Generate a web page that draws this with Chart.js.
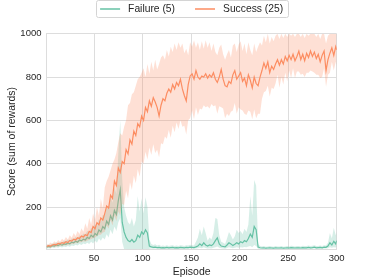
<!DOCTYPE html>
<html><head><meta charset="utf-8">
<script src="https://cdn.jsdelivr.net/npm/chart.js@4/dist/chart.umd.min.js"></script>
<style>html,body{margin:0;padding:0;background:#fff}</style>
</head><body>
<canvas id="c" width="374" height="280"></canvas>
<script>
// Episodes sampled every 2 steps (1,3,...,299) plus the final episode 300
const episodes = [];
for (let e = 1; e <= 299; e += 2) episodes.push(e);
episodes.push(300);

const xTicks = [50, 100, 150, 200, 250, 300];
const yTicks = [200, 400, 600, 800, 1000];
const seriesLabels = ['Failure (5)', 'Success (25)'];

const successMean = [
18,22,20,25,28,26,32,30,36,33,
40,36,46,43,52,48,58,55,66,62,
72,68,88,82,110,100,128,118,150,140,
170,205,195,255,240,320,300,380,360,410,
400,465,445,510,490,550,530,585,570,620,
600,660,640,690,665,705,685,660,620,670,
700,690,725,745,730,765,745,775,760,790,
745,715,690,765,805,815,790,830,800,790,
805,800,815,795,810,800,820,790,775,800,
835,790,760,755,780,770,810,830,790,805,
820,780,795,760,810,785,750,800,770,760,
800,830,865,840,870,820,850,835,860,880,
855,880,860,895,875,900,880,905,875,895,
920,880,905,875,910,890,920,895,915,885,
905,870,900,920,830,880,910,935,900,940,
925];
const successLow = [
9,14,10,16,15,17,18,20,20,22,
23,25,26,30,30,34,33,38,38,42,
40,45,48,52,56,60,65,72,72,82,
85,115,100,140,115,160,135,180,160,215,
210,275,240,315,280,345,310,375,340,410,
400,455,420,475,440,490,450,465,430,495,
490,525,515,555,520,575,545,590,560,600,
570,575,535,600,610,645,605,660,625,655,
650,670,660,665,655,675,665,670,630,665,
660,655,610,630,620,640,645,680,630,660,
650,645,630,625,645,640,605,650,610,630,
630,700,730,735,760,710,750,745,770,810,
750,800,765,820,780,830,795,840,795,825,
825,810,815,800,820,820,830,825,820,810,
810,795,800,840,755,810,820,870,830,870,
850];
const successHigh = [
30,26,36,30,42,34,48,40,54,46,
62,50,70,58,80,66,90,76,102,86,
125,100,150,120,170,140,200,160,240,195,
290,320,340,370,400,420,450,500,540,530,
570,600,670,680,720,730,760,790,800,820,
840,800,860,815,870,830,880,835,860,890,
900,880,925,895,940,915,955,925,960,935,
955,910,930,900,960,940,970,935,960,925,
965,930,970,935,960,920,955,915,900,935,
950,905,880,905,925,890,945,955,915,950,
965,920,955,905,960,925,900,955,915,940,
960,945,990,960,1000,955,985,965,990,1000,
975,1000,980,1000,985,1000,990,1000,985,1000,
1000,985,1000,980,1000,990,1000,1000,1000,985,
1000,975,1000,1000,955,990,1000,1000,1000,1000,
1000];

const failureMean = [
15,18,16,22,20,25,22,28,24,30,
28,34,30,38,35,42,38,48,44,52,
48,60,55,70,62,78,70,95,85,110,
100,135,120,160,140,185,165,230,280,130,
85,60,45,40,50,38,45,70,60,85,
75,95,80,20,16,14,15,13,14,12,
13,12,14,12,13,14,12,13,12,14,
13,12,14,13,15,14,13,16,20,30,
22,35,25,20,25,22,30,45,58,30,
20,18,16,25,35,30,22,28,35,30,
40,35,45,40,55,75,60,110,95,15,
12,11,12,10,11,12,11,10,12,11,
11,12,10,11,12,11,13,12,11,12,
12,11,13,12,12,14,12,13,15,12,
13,14,12,15,14,20,35,25,42,30,
45];
const failureLow = [
8,10,9,13,11,15,12,17,13,18,
16,20,17,23,20,26,22,30,25,32,
28,35,30,40,32,45,35,55,45,60,
50,75,60,95,75,110,90,130,150,40,
5,3,2,2,3,2,2,4,3,5,
4,5,3,8,9,8,9,8,9,7,
8,7,9,7,8,9,7,8,7,9,
8,7,9,8,9,8,8,9,10,12,
10,14,11,9,10,9,12,15,18,12,
10,9,8,11,14,12,10,12,14,12,
15,13,16,14,18,20,15,25,20,8,
8,7,8,6,7,8,7,6,8,7,
7,8,6,7,8,7,8,8,7,8,
8,7,8,8,8,9,8,8,9,8,
8,9,8,9,9,10,14,12,15,13,
18];
const failureHigh = [
24,28,25,33,30,37,33,40,36,44,
42,50,45,55,52,62,56,70,65,78,
75,90,85,105,95,120,110,145,130,165,
160,200,190,250,220,290,260,450,600,330,
200,160,130,120,150,110,140,250,180,240,
170,245,200,50,30,25,28,22,26,20,
22,20,24,20,22,24,20,22,20,24,
22,20,24,22,26,24,22,40,60,100,
70,110,80,45,60,50,80,150,145,70,
40,35,30,55,85,70,50,65,95,80,
90,75,100,85,120,250,160,325,300,30,
20,18,20,17,18,20,18,17,20,18,
18,20,17,18,20,18,21,20,18,20,
20,18,21,20,20,22,20,21,24,20,
20,22,20,24,22,35,80,55,105,70,
85];

const GREEN = '#66c2a5', ORANGE = '#fc8d62';
const GREEN_FILL = 'rgba(102,194,165,0.27)', ORANGE_FILL = 'rgba(252,141,98,0.27)';
const FONT = '"Liberation Sans", Arial, sans-serif';
const TXT = '#262626';
const GRID = '#dddddd';

const pts = arr => episodes.map((x, i) => ({x: x, y: arr[i]}));
const bandBase = {pointRadius: 0, borderWidth: 0, tension: 0, showLine: true};

const legendPlugin = {
  id: 'boxLegend',
  afterDraw(chart) {
    const ctx = chart.ctx;
    const items = [
      {label: seriesLabels[0], color: GREEN},
      {label: seriesLabels[1], color: ORANGE}
    ];
    ctx.save();
    ctx.font = '10.3px ' + FONT;
    const lineW = 20, gapT = 8, gapI = 20, padX = 4.5;
    let total = 0;
    items.forEach((it, i) => {
      it.w = ctx.measureText(it.label).width;
      total += lineW + gapT + it.w + (i ? gapI : 0);
    });
    const cx = (chart.chartArea.left + chart.chartArea.right) / 2;
    let x = cx - total / 2;
    const y = 9;
    const bx = Math.round(x - padX) + 0.5, bw = Math.round(total + 2 * padX);
    ctx.fillStyle = 'rgba(255,255,255,0.85)';
    ctx.strokeStyle = '#d4d4d4';
    ctx.lineWidth = 1;
    ctx.beginPath();
    ctx.roundRect(bx, 0.5, bw, 17, 2);
    ctx.fill();
    ctx.stroke();
    items.forEach((it, i) => {
      if (i) x += gapI;
      ctx.strokeStyle = it.color;
      ctx.lineWidth = 1.5;
      ctx.beginPath();
      ctx.moveTo(x, y);
      ctx.lineTo(x + lineW, y);
      ctx.stroke();
      x += lineW + gapT;
      ctx.fillStyle = TXT;
      ctx.textBaseline = 'middle';
      ctx.textAlign = 'left';
      ctx.fillText(it.label, x, y + 0.5);
      x += it.w;
    });
    ctx.restore();
  }
};

new Chart(document.getElementById('c'), {
  type: 'line',
  data: {
    datasets: [
      {label: seriesLabels[1], data: pts(successMean), borderColor: ORANGE, borderWidth: 1.2, pointRadius: 0, tension: 0, fill: false, order: 0},
      Object.assign({label: 'success-high', data: pts(successHigh), fill: '+1', backgroundColor: ORANGE_FILL, borderColor: 'rgba(0,0,0,0)', order: 1}, bandBase),
      Object.assign({label: 'success-low', data: pts(successLow), fill: false, borderColor: 'rgba(0,0,0,0)', order: 1}, bandBase),
      {label: seriesLabels[0], data: pts(failureMean), borderColor: GREEN, borderWidth: 1.2, pointRadius: 0, tension: 0, fill: false, order: 2},
      Object.assign({label: 'failure-high', data: pts(failureHigh), fill: '+1', backgroundColor: GREEN_FILL, borderColor: 'rgba(0,0,0,0)', order: 3}, bandBase),
      Object.assign({label: 'failure-low', data: pts(failureLow), fill: false, borderColor: 'rgba(0,0,0,0)', order: 3}, bandBase)
    ]
  },
  options: {
    responsive: false,
    animation: false,
    devicePixelRatio: 1,
    layout: {padding: {top: 33.7, right: 37.3, left: 0, bottom: 0}},
    plugins: {legend: {display: false}, tooltip: {enabled: false}},
    scales: {
      x: {
        type: 'linear', min: 1, max: 300,
        afterBuildTicks: s => { s.ticks = xTicks.map(v => ({value: v})); },
        afterFit: s => { s.height = 30.7; },
        grid: {color: GRID, drawTicks: false, lineWidth: 1},
        border: {display: true, color: GRID},
        ticks: {font: {family: FONT, size: 9.5}, color: TXT, padding: 3, maxRotation: 0, autoSkip: false, callback: v => String(v)},
        title: {display: true, text: 'Episode', font: {family: FONT, size: 10.5}, color: TXT, padding: {top: 2, bottom: 2}}
      },
      y: {
        type: 'linear', min: 5, max: 1000,
        afterBuildTicks: s => { s.ticks = yTicks.map(v => ({value: v})); },
        afterFit: s => { s.width = 46.5; },
        grid: {color: GRID, drawTicks: false, lineWidth: 1},
        border: {display: true, color: GRID},
        ticks: {font: {family: FONT, size: 9.5}, color: TXT, padding: 5, callback: v => String(v)},
        title: {display: true, text: 'Score (sum of rewards)', font: {family: FONT, size: 10.5}, color: TXT, padding: {top: 6, bottom: 0}}
      }
    }
  },
  plugins: [legendPlugin]
});
</script>
</body></html>
